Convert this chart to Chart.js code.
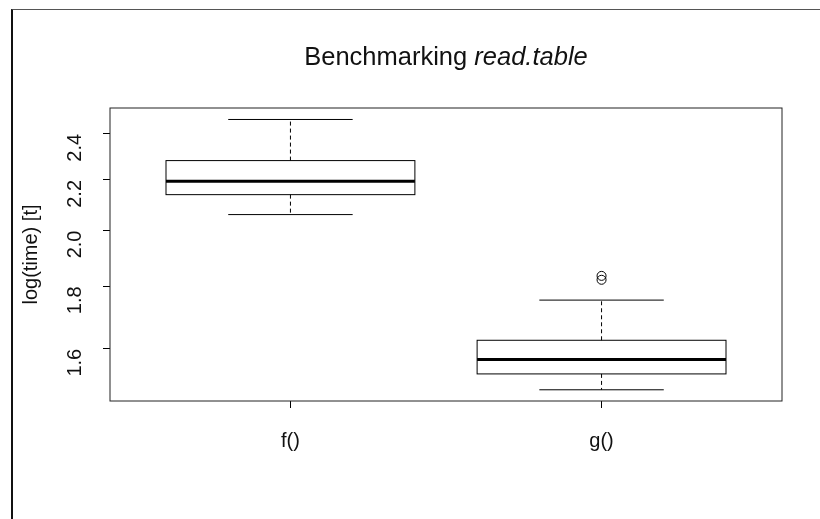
<!DOCTYPE html>
<html>
<head>
<meta charset="utf-8">
<script src="https://cdn.jsdelivr.net/npm/chart.js@4"></script>
<style>
  html, body { margin:0; padding:0; background:#fff; }
  #wrap { position:relative; width:820px; height:519px; overflow:hidden; }
  #frame { position:absolute; left:11px; top:9px; width:900px; height:600px;
    border-top:1px solid #555; border-left:2px solid #111; }
  #title { position:absolute; left:110px; width:672px; top:42px; text-align:center;
    font-family:'Liberation Sans', Arial, sans-serif; font-size:25.5px; color:#111; }
  canvas { position:absolute; left:0; top:0; }
</style>
</head>
<body>
<div id="wrap">
  <div id="frame"></div>
  <canvas id="chart" width="820" height="519"></canvas>
  <div id="title">Benchmarking <i>read.table</i></div>
</div>
<script>
// boxplot stats (log scale)
const categories = ['f()', 'g()'];
const whiskerLow  = [2.061, 1.481];
const q1          = [2.140, 1.526];
const median      = [2.195, 1.568];
const q3          = [2.282, 1.626];
const whiskerHigh = [2.466, 1.754];
const outliers    = [[], [1.8225, 1.836]];
const yTicks = [1.6, 1.8, 2.0, 2.2, 2.4];

const BOX_HALF = 0.4, CAP_HALF = 0.2;
const FONT = "'Liberation Sans', Arial, sans-serif";

const outlierPts = [];
outliers.forEach((arr, i) => arr.forEach(v => outlierPts.push({ x: i + 1, y: v })));

const boxPlugin = {
  id: 'boxes',
  afterDatasetsDraw(chart) {
    const { ctx, scales: { x, y }, chartArea: a } = chart;
    ctx.save();
    ctx.strokeStyle = '#000';
    categories.forEach((c, i) => {
      const cx = x.getPixelForValue(i + 1);
      const bw = x.getPixelForValue(i + 1 + BOX_HALF) - cx;
      const cw = x.getPixelForValue(i + 1 + CAP_HALF) - cx;
      const yLo = y.getPixelForValue(whiskerLow[i]), yHi = y.getPixelForValue(whiskerHigh[i]);
      const y1 = y.getPixelForValue(q1[i]), y3 = y.getPixelForValue(q3[i]);
      const ym = y.getPixelForValue(median[i]);
      // whiskers
      ctx.lineWidth = 1;
      ctx.setLineDash([4, 3]);
      ctx.beginPath();
      ctx.moveTo(cx, y3); ctx.lineTo(cx, yHi);
      ctx.moveTo(cx, y1); ctx.lineTo(cx, yLo);
      ctx.stroke();
      ctx.setLineDash([]);
      // caps
      ctx.beginPath();
      ctx.moveTo(cx - cw, yHi); ctx.lineTo(cx + cw, yHi);
      ctx.moveTo(cx - cw, yLo); ctx.lineTo(cx + cw, yLo);
      ctx.stroke();
      // box
      ctx.strokeRect(cx - bw, y3, bw * 2, y1 - y3);
      // median
      ctx.lineWidth = 3;
      ctx.beginPath();
      ctx.moveTo(cx - bw, ym); ctx.lineTo(cx + bw, ym);
      ctx.stroke();
    });
    // plot frame
    ctx.lineWidth = 1;
    ctx.strokeStyle = '#222';
    ctx.strokeRect(a.left, a.top, a.right - a.left, a.bottom - a.top);
    ctx.restore();
  }
};

new Chart(document.getElementById('chart'), {
  type: 'scatter',
  data: {
    datasets: [{
      data: outlierPts,
      pointStyle: 'circle',
      pointRadius: 4.5,
      pointBorderWidth: 1,
      pointBorderColor: '#000',
      pointBackgroundColor: 'rgba(0,0,0,0)'
    }]
  },
  options: {
    responsive: false,
    animation: false,
    layout: { padding: { left: 0, top: 108, right: 38, bottom: 0 } },
    plugins: { legend: { display: false }, tooltip: { enabled: false } },
    scales: {
      x: {
        type: 'linear', min: 0.42, max: 2.58,
        afterBuildTicks: s => { s.ticks = categories.map((c, i) => ({ value: i + 1 })); },
        afterFit: s => { s.height = 118; },
        grid: { display: true, drawOnChartArea: false, drawTicks: true, tickLength: 7, color: '#000' },
        border: { display: false },
        ticks: {
          color: '#111', font: { family: FONT, size: 20 }, padding: 21,
          callback: v => categories[v - 1]
        }
      },
      y: {
        type: 'logarithmic', min: 1.45, max: 2.52,
        afterBuildTicks: s => { s.ticks = yTicks.map(v => ({ value: v })); },
        afterFit: s => { s.width = 110; },
        grid: { display: true, drawOnChartArea: false, drawTicks: true, tickLength: 7, color: '#000' },
        border: { display: false },
        title: {
          display: true, text: 'log(time) [t]', color: '#111',
          font: { family: FONT, size: 20 }, padding: { top: 19, bottom: 0 }
        },
        ticks: {
          color: '#111', font: { family: FONT, size: 20 }, padding: 28,
          minRotation: 90, maxRotation: 90,
          callback: v => Number(v).toFixed(1)
        }
      }
    }
  },
  plugins: [boxPlugin]
});
</script>
</body>
</html>
